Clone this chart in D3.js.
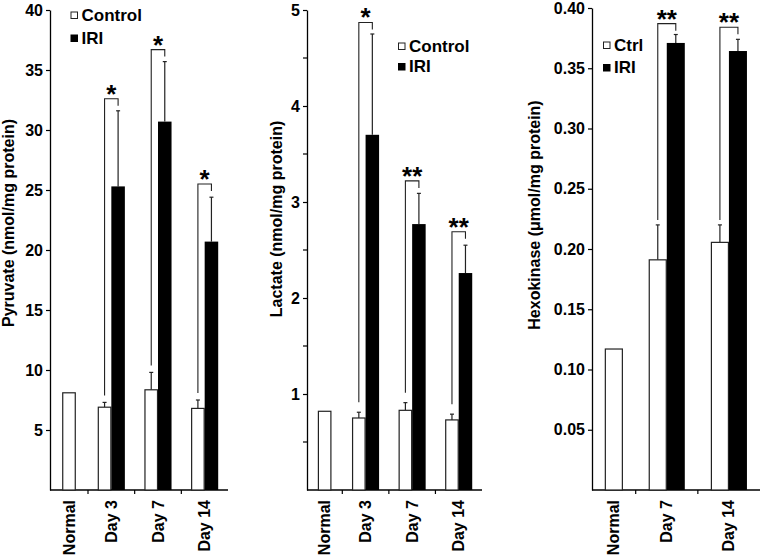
<!DOCTYPE html>
<html><head><meta charset="utf-8">
<script src="https://cdn.jsdelivr.net/npm/d3@7"></script>
<style>
body{margin:0;background:#fff}
svg text{font-family:"Liberation Sans",Arial,sans-serif;font-weight:bold;fill:#000}
</style></head><body>
<svg id="c" width="762" height="558"></svg>
<script>
// ---------- DATA ----------
const pyrCategories = ["Normal", "Day 3", "Day 7", "Day 14"];
const pyrControl    = [8.1, 6.9, 8.35, 6.8];
const pyrControlErr = [0, 0.4, 1.45, 0.7];
const pyrIRI        = [null, 25.3, 30.7, 20.7];
const pyrIRIErr     = [null, 6.3, 5.0, 3.7];
const pyrSig        = [null, "*", "*", "*"];
const pyrBracket    = [null, 32.6, 36.7, 25.5];
const pyrTicks      = [5, 10, 15, 20, 25, 30, 35, 40];

const lacCategories = ["Normal", "Day 3", "Day 7", "Day 14"];
const lacControl    = [0.82, 0.75, 0.83, 0.73];
const lacControlErr = [0, 0.06, 0.08, 0.06];
const lacIRI        = [null, 3.70, 2.77, 2.26];
const lacIRIErr     = [null, 1.05, 0.32, 0.29];
const lacSig        = [null, "*", "**", "**"];
const lacBracket    = [null, 4.87, 3.22, 2.69];
const lacTicks      = [1, 2, 3, 4, 5];
const lacMinorTicks = [0.5, 1.5, 2.5, 3.5, 4.5];

const hexCategories = ["Normal", "Day 7", "Day 14"];
const hexControl    = [0.117, 0.191, 0.2055];
const hexControlErr = [0, 0.029, 0.0145];
const hexIRI        = [null, 0.371, 0.3643];
const hexIRIErr     = [null, 0.007, 0.0097];
const hexSig        = [null, "**", "**"];
const hexBracket    = [null, 0.387, 0.384];
const hexTicks      = [0.05, 0.10, 0.15, 0.20, 0.25, 0.30, 0.35, 0.40];

// ---------- DRAW ----------
const svg = d3.select("#c");

function drawPanel(cfg, L) {
  const g = svg.append("g");
  const y = d3.scaleLinear().domain(cfg.yDomain).range([490, L.yTop]);
  const n = cfg.categories.length;
  const bw = (L.axisEnd - L.firstTick) / (n - 1);
  const x = d3.scaleBand().domain(cfg.categories)
    .range([L.firstTick - bw, L.axisEnd]).paddingInner(0).paddingOuter(0);
  const barW = 0.29 * bw;
  const center = (i) => i === 0 ? (L.axisX + L.firstTick) / 2 : x(cfg.categories[i]) + bw / 2;

  // y axis
  const ax = d3.axisLeft(y).tickValues(cfg.ticks).tickFormat(d3.format(cfg.fmt))
    .tickSize(4).tickSizeOuter(0).tickPadding(3);
  const ya = g.append("g").attr("transform", `translate(${L.axisX},0)`).call(ax);
  ya.select(".domain").attr("stroke", "#000").attr("stroke-width", 1.3);
  ya.selectAll(".tick line").attr("stroke", "#000").attr("stroke-width", 1.2);
  ya.selectAll(".tick text").attr("font-size", 16).style("font-weight", "bold")
    .attr("font-family", null);
  if (cfg.minorTicks) {
    g.append("g").selectAll("line").data(cfg.minorTicks).join("line")
      .attr("x1", L.axisX - 4).attr("x2", L.axisX)
      .attr("y1", d => y(d)).attr("y2", d => y(d))
      .attr("stroke", "#000").attr("stroke-width", 1.2);
  }

  // x axis
  g.append("line").attr("x1", L.axisX).attr("x2", L.axisEnd)
    .attr("y1", y(0)).attr("y2", y(0)).attr("stroke", "#000").attr("stroke-width", 1.3);
  g.append("g").selectAll("line").data(cfg.categories.slice(1)).join("line")
    .attr("x1", d => x(d)).attr("x2", d => x(d))
    .attr("y1", y(0)).attr("y2", y(0) + 4).attr("stroke", "#000").attr("stroke-width", 1.2);
  g.append("g").selectAll("text").data(cfg.categories).join("text")
    .attr("transform", (d, i) => `translate(${center(i) + 5.5},500) rotate(-90)`)
    .attr("text-anchor", "end").attr("font-size", 16).text(d => d);

  // y label
  g.append("text").attr("transform", `translate(${L.labelX},${L.labelY}) rotate(-90)`)
    .attr("text-anchor", "middle").attr("font-size", 16).text(cfg.label);

  // bars
  const rows = cfg.categories.map((c, i) => ({
    i, c, ctrl: cfg.control[i], ctrlErr: cfg.controlErr[i],
    iri: cfg.iri[i], iriErr: cfg.iriErr[i], sig: cfg.sig[i], br: cfg.bracket[i]
  }));
  const ctrlX = (r) => r.i === 0 ? center(r.i) - barW / 2 : center(r.i) - barW;

  // error bars (drawn first so bars overlay)
  rows.forEach(r => {
    const pairs = [];
    if (r.ctrlErr) pairs.push([ctrlX(r) + barW / 2, r.ctrl, r.ctrlErr]);
    if (r.iri != null) pairs.push([center(r.i) + barW / 2, r.iri, r.iriErr]);
    pairs.forEach(([cx, v, e]) => {
      g.append("line").attr("x1", cx).attr("x2", cx).attr("y1", y(v)).attr("y2", y(v + e))
        .attr("stroke", "#222").attr("stroke-width", 1.2);
      g.append("line").attr("x1", cx - 2).attr("x2", cx + 2).attr("y1", y(v + e)).attr("y2", y(v + e))
        .attr("stroke", "#222").attr("stroke-width", 1.2);
    });
  });

  g.append("g").selectAll("rect").data(rows).join("rect")
    .attr("x", r => ctrlX(r) + 0.5).attr("y", r => y(r.ctrl))
    .attr("width", barW - 1).attr("height", r => y(0) - y(r.ctrl))
    .attr("fill", "#fff").attr("stroke", "#222").attr("stroke-width", 1.2);
  g.append("g").selectAll("rect").data(rows.filter(r => r.iri != null)).join("rect")
    .attr("x", r => center(r.i)).attr("y", r => y(r.iri))
    .attr("width", barW).attr("height", r => y(0) - y(r.iri))
    .attr("fill", "#000");

  // significance brackets
  rows.filter(r => r.sig).forEach(r => {
    const lx = ctrlX(r) + barW / 2, rx = center(r.i) + barW / 2;
    const ty = y(r.br);
    const lb = y(r.ctrl + r.ctrlErr) - L.legGap;
    g.append("path")
      .attr("d", `M${lx},${lb}V${ty}H${rx}V${ty + 7}`)
      .attr("fill", "none").attr("stroke", "#222").attr("stroke-width", 1.1);
    g.append("text").attr("x", (lx + rx) / 2).attr("y", ty + 4)
      .attr("text-anchor", "middle").attr("font-size", 26).text(r.sig);
  });

  // legend
  const lg = g.append("g");
  lg.append("rect").attr("x", L.legX).attr("y", L.legY).attr("width", 6.5).attr("height", 6.5)
    .attr("fill", "#fff").attr("stroke", "#222").attr("stroke-width", 1);
  lg.append("rect").attr("x", L.legX - 0.5).attr("y", L.legY + L.legDy - 0.5).attr("width", 7.5).attr("height", 7.5)
    .attr("fill", "#000");
  lg.append("text").attr("x", L.legX + 10.5).attr("y", L.legY + 8.5).attr("font-size", 17).text(cfg.legend[0]);
  lg.append("text").attr("x", L.legX + 10.5).attr("y", L.legY + L.legDy + 8.5).attr("font-size", 17).text(cfg.legend[1]);
}

drawPanel({
  categories: pyrCategories, control: pyrControl, controlErr: pyrControlErr,
  iri: pyrIRI, iriErr: pyrIRIErr, sig: pyrSig, bracket: pyrBracket,
  yDomain: [0, 40], ticks: pyrTicks, fmt: "d",
  label: "Pyruvate (nmol/mg protein)", legend: ["Control", "IRI"]
}, { axisX: 50, axisEnd: 228, firstTick: 88, yTop: 10, labelX: 13.5, labelY: 223,
     legX: 71, legY: 12, legDy: 23, legGap: 7 });

drawPanel({
  categories: lacCategories, control: lacControl, controlErr: lacControlErr,
  iri: lacIRI, iriErr: lacIRIErr, sig: lacSig, bracket: lacBracket,
  yDomain: [0, 5], ticks: lacTicks, minorTicks: lacMinorTicks, fmt: "d",
  label: "Lactate (nmol/mg protein)", legend: ["Control", "IRI"]
}, { axisX: 307, axisEnd: 482, firstTick: 342.3, yTop: 10, labelX: 282, labelY: 219,
     legX: 398.5, legY: 43, legDy: 20.5, legGap: 10 });

drawPanel({
  categories: hexCategories, control: hexControl, controlErr: hexControlErr,
  iri: hexIRI, iriErr: hexIRIErr, sig: hexSig, bracket: hexBracket,
  yDomain: [0, 0.4], ticks: hexTicks, fmt: ".2f",
  label: "Hexokinase (\u03bcmol/mg protein)", legend: ["Ctrl", "IRI"]
}, { axisX: 592, axisEnd: 760, firstTick: 635.7, yTop: 8, labelX: 540, labelY: 215,
     legX: 603.5, legY: 42, legDy: 22.5, legGap: 5 });
</script>
</body></html>
